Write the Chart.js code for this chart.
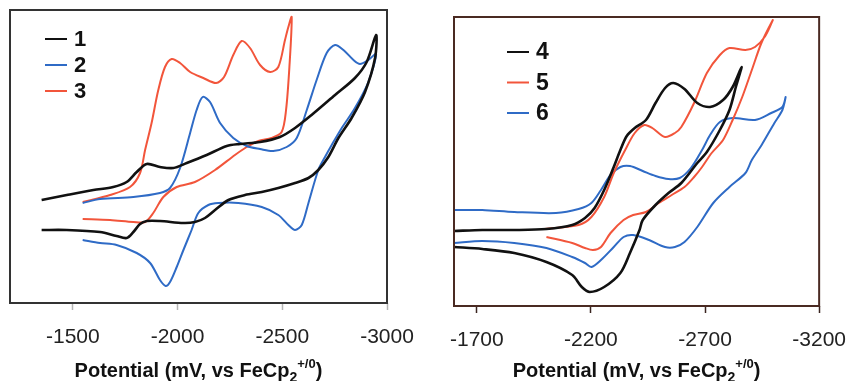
<!DOCTYPE html>
<html>
<head>
<meta charset="utf-8">
<script src="https://cdn.jsdelivr.net/npm/chart.js@4/dist/chart.umd.min.js"></script>
<style>
  html, body { margin: 0; padding: 0; background: #fff; }
  #wrap { position: relative; width: 861px; height: 381px; }
  .panel { position: absolute; top: 0; height: 381px; }
  #left { left: 0; width: 430px; }
  #right { left: 430px; width: 431px; }
</style>
</head>
<body>
<div id="wrap">
  <div class="panel" id="left"><canvas id="cvLeft"></canvas></div>
  <div class="panel" id="right"><canvas id="cvRight"></canvas></div>
</div>
<script>
// potential in mV vs FeCp2+/0, current in arbitrary units
var LEFT_TICKS  = [-1500, -2000, -2500, -3000];
var RIGHT_TICKS = [-1700, -2200, -2700, -3200];
var LEFT_NAMES  = ['1', '2', '3'];
var RIGHT_NAMES = ['4', '5', '6'];

var CV1 = [
  [-1351,103],[-1471,108],[-1598,113],[-1693,116],[-1757,121],[-1805,131],[-1853,139],
  [-1916,136],[-1980,135],[-2044,140],[-2139,148],[-2235,157],[-2298,159],[-2394,161],
  [-2489,166],[-2561,175],[-2640,188],[-2752,208],[-2847,225],[-2903,241],[-2948,268],
  [-2943,245],[-2895,211],[-2831,185],[-2768,165],[-2720,146],[-2672,133],[-2625,125],
  [-2561,120],[-2481,115],[-2402,111],[-2322,108],[-2243,103],[-2179,93],[-2131,85],
  [-2083,81],[-2028,80],[-1916,82],[-1853,82],[-1821,79],[-1789,71],[-1757,65],
  [-1709,67],[-1630,71],[-1471,73],[-1351,73]
];
var CV2 = [
  [-1547,100],[-1630,104],[-1789,106],[-1916,110],[-1964,115],[-2012,135],[-2060,170],
  [-2091,193],[-2120,206],[-2155,201],[-2203,180],[-2266,165],[-2330,157],[-2394,154],
  [-2457,152],[-2521,156],[-2569,165],[-2617,193],[-2664,223],[-2712,250],[-2752,258],
  [-2792,253],[-2840,243],[-2871,239],[-2911,243],[-2948,249],
  [-2911,221],[-2847,195],[-2784,175],[-2736,158],[-2704,146],[-2672,133],[-2625,100],
  [-2593,78],[-2561,73],[-2529,78],[-2481,88],[-2402,96],[-2290,100],[-2195,100],
  [-2147,98],[-2099,90],[-2067,73],[-2028,53],[-1996,36],[-1964,21],[-1943,17],
  [-1916,23],[-1869,40],[-1805,50],[-1709,58],[-1630,60],[-1547,63]
];
var CV3 = [
  [-1547,101],[-1678,108],[-1773,116],[-1821,130],[-1845,153],[-1876,180],[-1908,213],
  [-1940,236],[-1972,244],[-2012,240],[-2060,231],[-2123,225],[-2184,220],[-2222,226],
  [-2266,248],[-2306,262],[-2346,255],[-2394,238],[-2442,231],[-2481,236],[-2513,263],
  [-2529,276],[-2545,286],
  [-2534,236],[-2518,193],[-2497,171],[-2449,165],[-2386,162],[-2330,156],[-2274,148],
  [-2179,133],[-2083,121],[-1996,116],[-1932,106],[-1884,90],[-1845,81],[-1789,81],
  [-1678,83],[-1547,84]
];
var CV4 = [
  [-1600,75],[-1724,76],[-1864,76],[-2005,77],[-2118,81],[-2174,88],[-2216,98],
  [-2258,116],[-2300,139],[-2329,156],[-2357,170],[-2392,178],[-2441,186],[-2483,203],
  [-2525,218],[-2561,223],[-2610,217],[-2666,203],[-2722,199],[-2779,206],[-2821,219],
  [-2860,239],
  [-2835,219],[-2807,196],[-2765,176],[-2708,154],[-2666,143],[-2596,123],[-2540,113],
  [-2483,101],[-2427,86],[-2413,76],[-2371,53],[-2329,33],[-2258,19],[-2195,14],
  [-2160,19],[-2118,31],[-2005,44],[-1864,53],[-1724,57],[-1600,59]
];
var CV5 = [
  [-1998,77],[-2146,81],[-2202,89],[-2258,109],[-2300,133],[-2350,156],[-2392,173],
  [-2434,181],[-2469,178],[-2525,169],[-2568,173],[-2596,179],[-2652,203],[-2708,233],
  [-2765,251],[-2807,258],[-2877,256],[-2919,259],[-2961,269],[-2997,286],
  [-2947,263],[-2905,236],[-2863,209],[-2821,186],[-2779,166],[-2729,153],[-2687,139],
  [-2652,129],[-2610,119],[-2554,111],[-2497,103],[-2441,94],[-2385,91],[-2343,86],
  [-2286,73],[-2244,59],[-2209,56],[-2174,58],[-2118,63],[-2005,69]
];
var CV6 = [
  [-1600,96],[-1724,96],[-1864,94],[-2047,93],[-2146,97],[-2202,103],[-2244,116],
  [-2286,131],[-2329,139],[-2371,140],[-2427,135],[-2483,130],[-2540,127],[-2589,128],
  [-2638,138],[-2687,156],[-2722,171],[-2765,184],[-2821,188],[-2919,186],[-2990,193],
  [-3039,199],[-3053,209],
  [-3039,196],[-3004,183],[-2948,161],[-2905,146],[-2877,133],[-2807,119],[-2736,103],
  [-2666,79],[-2610,64],[-2568,59],[-2525,59],[-2455,66],[-2385,71],[-2343,69],
  [-2300,59],[-2244,46],[-2202,39],[-2174,43],[-2118,49],[-2005,58],[-1864,63],
  [-1724,65],[-1600,63]
];

var BLACK = '#111111';
var BLUE  = '#2f6bc6';
var RED   = '#f2553b';

function pts(arr) {
  return arr.map(function (p) { return { x: p[0], y: p[1] }; });
}

function series(name, arr, color, width) {
  return {
    label: name,
    data: pts(arr),
    showLine: true,
    borderColor: color,
    backgroundColor: color,
    borderWidth: width,
    pointRadius: 0,
    tension: 0.3,
    fill: false
  };
}

// frame, legend and axis title drawn inside the chart
var decor = {
  id: 'decor',
  afterDraw: function (chart, args, o) {
    var ctx = chart.ctx, a = chart.chartArea;
    ctx.save();
    ctx.strokeStyle = o.frameColor;
    ctx.lineWidth = 2;
    ctx.strokeRect(a.left, a.top, a.right - a.left, a.bottom - a.top);

    // legend
    ctx.textBaseline = 'middle';
    ctx.textAlign = 'left';
    ctx.font = 'bold ' + o.legendSize + 'px "Liberation Sans", Arial, sans-serif';
    chart.data.datasets.forEach(function (ds, i) {
      var y = o.legendY + i * o.legendGap;
      ctx.strokeStyle = ds.borderColor;
      ctx.lineWidth = 2;
      ctx.beginPath();
      ctx.moveTo(o.legendX, y);
      ctx.lineTo(o.legendX + 22, y);
      ctx.stroke();
      ctx.fillStyle = '#111';
      ctx.fillText(ds.label, o.legendX + 29, y + 1);
    });

    // axis title with sub/superscript
    var parts = [
      { t: 'Potential (mV, vs FeCp', s: 20, dy: 0 },
      { t: '2', s: 14, dy: 5 },
      { t: '+/0', s: 13, dy: -9 },
      { t: ')', s: 20, dy: 0 }
    ];
    var total = 0;
    parts.forEach(function (p) {
      ctx.font = 'bold ' + p.s + 'px "Liberation Sans", Arial, sans-serif';
      p.w = ctx.measureText(p.t).width;
      total += p.w;
    });
    var x = (a.left + a.right) / 2 - total / 2;
    ctx.textBaseline = 'alphabetic';
    ctx.fillStyle = '#111';
    parts.forEach(function (p) {
      ctx.font = 'bold ' + p.s + 'px "Liberation Sans", Arial, sans-serif';
      ctx.fillText(p.t, x, o.titleY + p.dy);
      x += p.w;
    });
    ctx.restore();
  }
};

function build(canvasId, datasets, xmin, xmax, ymax, ticks, pad, axisH, tickColor, o) {
  return new Chart(document.getElementById(canvasId), {
    type: 'scatter',
    data: { datasets: datasets },
    plugins: [decor],
    options: {
      responsive: true,
      maintainAspectRatio: false,
      animation: false,
      layout: { padding: pad },
      plugins: {
        legend: { display: false },
        tooltip: { enabled: false },
        decor: o
      },
      scales: {
        x: {
          type: 'linear',
          reverse: true,
          min: xmin,
          max: xmax,
          afterBuildTicks: function (s) {
            s.ticks = ticks.map(function (v) { return { value: v }; });
          },
          afterFit: function (s) { s.height = axisH; },
          border: { display: false },
          grid: {
            drawOnChartArea: false,
            tickLength: 7,
            tickColor: tickColor,
            tickWidth: 1.5
          },
          ticks: {
            color: '#222',
            padding: 15,
            maxRotation: 0,
            font: { size: 21, family: '"Liberation Sans", Arial, sans-serif' },
            callback: function (v) { return String(v); }
          }
        },
        y: { display: false, min: 0, max: ymax }
      }
    }
  });
}

build('cvLeft', [
  series(LEFT_NAMES[0], CV1, BLACK, 2.6),
  series(LEFT_NAMES[1], CV2, BLUE, 2),
  series(LEFT_NAMES[2], CV3, RED, 2)
], -3000, -1200, 293, LEFT_TICKS,
  { left: 10, top: 10, right: 43, bottom: 0 }, 78, '#b5b5b5',
  { frameColor: '#333', legendX: 45, legendY: 39, legendGap: 26, legendSize: 22, titleY: 377 });

build('cvRight', [
  series(RIGHT_NAMES[0], CV4, BLACK, 2.6),
  series(RIGHT_NAMES[1], CV5, RED, 2),
  series(RIGHT_NAMES[2], CV6, BLUE, 2)
], -3200, -1600, 289, RIGHT_TICKS,
  { left: 24, top: 17, right: 28, bottom: 0 }, 75, '#3a2520',
  { frameColor: '#4a2a22', legendX: 77, legendY: 52, legendGap: 30.5, legendSize: 23, titleY: 377 });
</script>
</body>
</html>
